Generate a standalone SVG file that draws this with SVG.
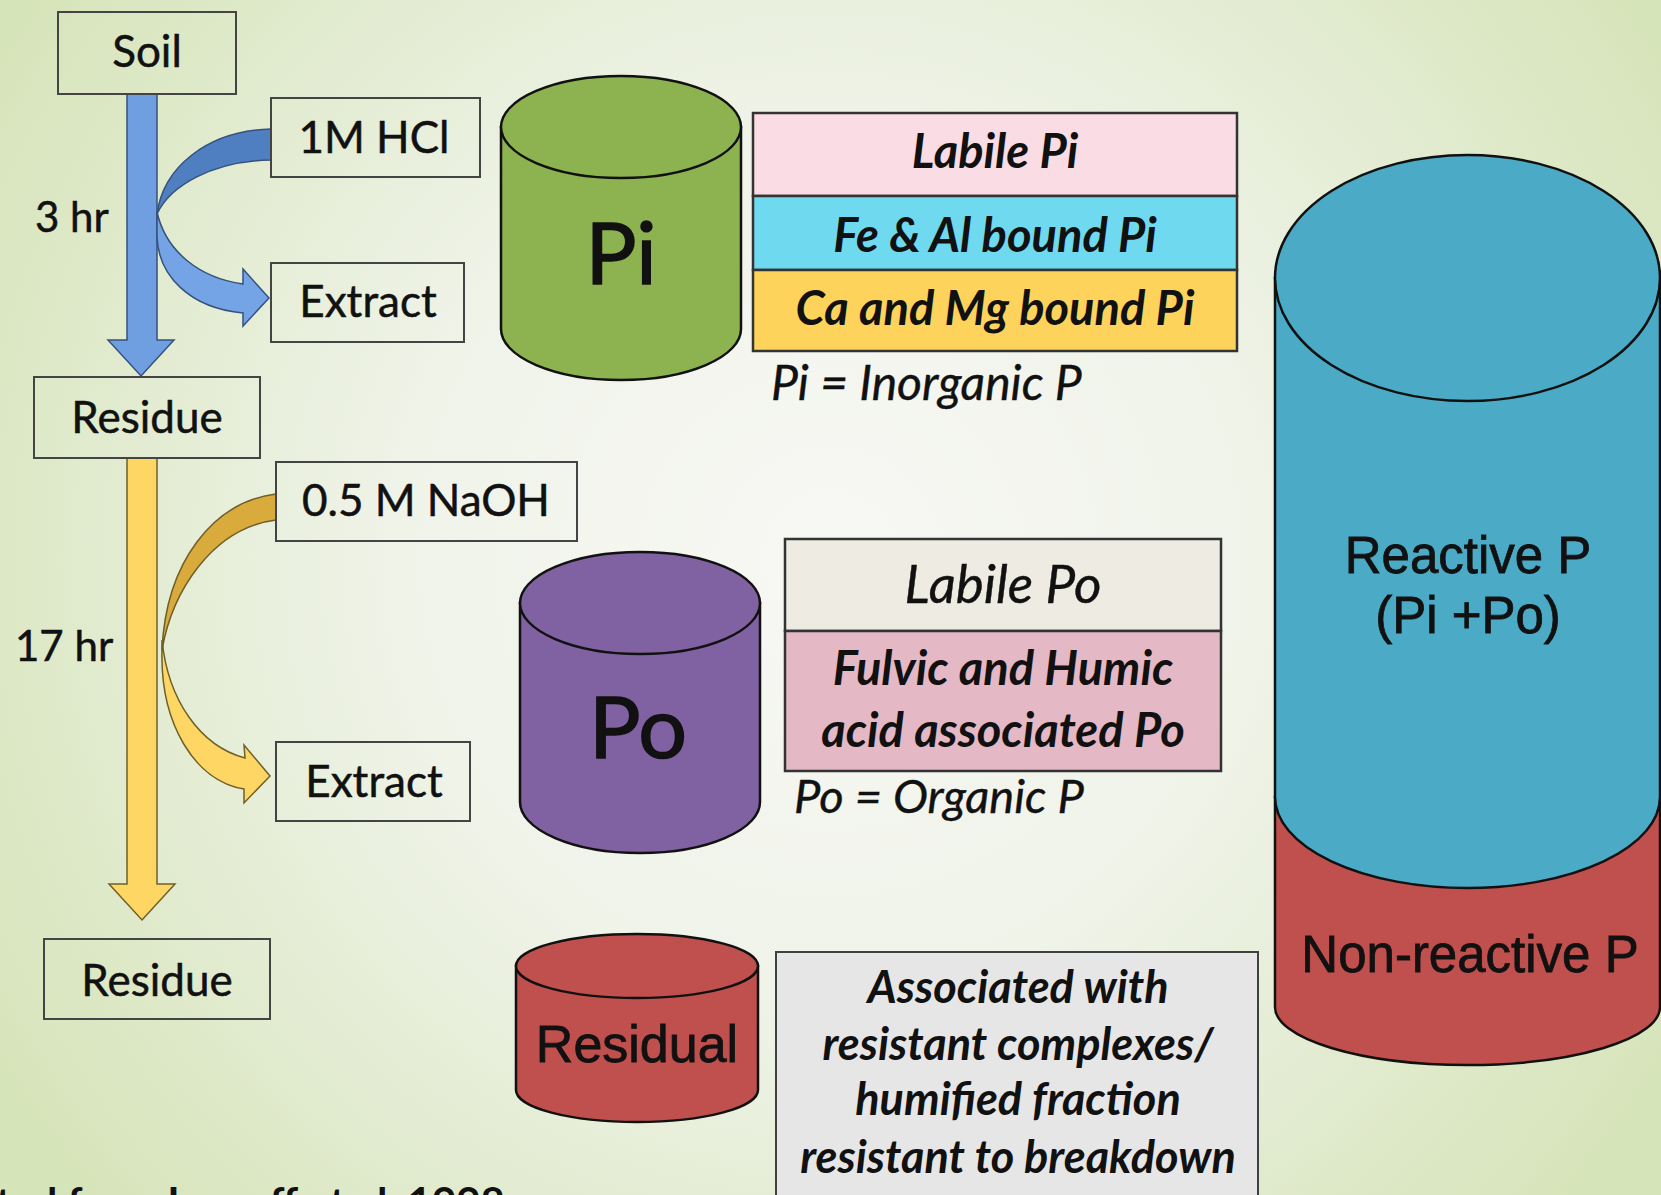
<svg xmlns="http://www.w3.org/2000/svg" width="1661" height="1195" viewBox="0 0 1661 1195">
<defs>
<radialGradient id="bg" cx="830" cy="560" r="980" gradientUnits="userSpaceOnUse">
<stop offset="0" stop-color="#f8f8f5"/>
<stop offset="0.45" stop-color="#eff3e8"/>
<stop offset="1" stop-color="#d6e4b9"/>
</radialGradient>
<style>
.box{fill:none;stroke:#444;stroke-width:2}
.lbl{font-family:Lato,"Open Sans","Liberation Sans",sans-serif;font-size:44px;fill:#111;stroke:#111;stroke-width:0.5;text-anchor:middle}
.hr{font-family:Lato,"Open Sans","Liberation Sans",sans-serif;font-size:42px;fill:#111;stroke:#111;stroke-width:0.5}
.lay{stroke:#333;stroke-width:2.5}
.bi{font-family:Lato,"Open Sans","Liberation Sans",sans-serif;font-weight:bold;font-style:italic;fill:#111;text-anchor:middle}
.it{font-family:Lato,"Open Sans","Liberation Sans",sans-serif;font-style:italic;fill:#111;stroke:#111;stroke-width:0.4}
.cyl{stroke:#111;stroke-width:2.5}
.big{font-family:Lato,"Open Sans","Liberation Sans",sans-serif;fill:#111;stroke:#111;stroke-width:1.5;text-anchor:middle}
.ar{font-family:"Liberation Sans",Arial,sans-serif;fill:#111;stroke:#111;stroke-width:0.8;text-anchor:middle}
.cite{font-family:Lato,"Open Sans","Liberation Sans",sans-serif;font-weight:bold;font-size:42px;fill:#111;text-anchor:end}
</style>
</defs>
<rect x="0" y="0" width="1661" height="1195" fill="url(#bg)"/>

<g id="connectors">
<path id="arrow-soil-residue" d="M127,94 L157,94 L157,340 L174,340 L141,376 L108,340 L127,340 Z" fill="#6f9fe0" stroke="#34527d" stroke-width="1.5"/>
<path id="curve-hcl-dark" d="M271,129 C206,131 163,168 157,214 C170,186 212,161 271,160 Z" fill="#4f7fc0" stroke="#34527d" stroke-width="1.5"/>
<path id="curve-hcl-light" d="M157,212 C166,252 200,278 243,284 L243,269 L269,298 L243,326 L243,313 C190,308 158,276 157,236 Z" fill="#74a4e6" stroke="#34527d" stroke-width="1.5"/>
<text class="hr" x="35" y="232">3 hr</text>

<path id="arrow-residue-residue" d="M127,458 L157,458 L157,884 L175,884 L142,920 L109,884 L127,884 Z" fill="#fdd663" stroke="#6f5f28" stroke-width="1.5"/>
<path id="curve-naoh-dark" d="M276,494 C213,502 166,562 162,650 C172,592 212,528 276,520 Z" fill="#d9aa3c" stroke="#6f5f28" stroke-width="1.5"/>
<path id="curve-naoh-light" d="M162,640 C168,700 200,746 245,758 L244,745 L270,776 L244,803 L244,789 C195,781 160,724 162,650 Z" fill="#fdd663" stroke="#6f5f28" stroke-width="1.5"/>
<text class="hr" x="15" y="661">17 hr</text>
</g>

<g id="soil"><rect class="box" x="58" y="12" width="178" height="82"/><text class="lbl" x="147" y="67" font-size="45">Soil</text></g>
<g id="hcl"><rect class="box" x="271" y="98" width="209" height="79"/><text class="lbl" x="374" y="153">1M HCl</text></g>
<g id="extract1"><rect class="box" x="271" y="263" width="193" height="79"/><text class="lbl" x="368" y="317">Extract</text></g>
<g id="residue1"><rect class="box" x="34" y="377" width="226" height="81"/><text class="lbl" x="147" y="433">Residue</text></g>
<g id="naoh"><rect class="box" x="276" y="462" width="301" height="79"/><text class="lbl" x="426" y="516">0.5 M NaOH</text></g>
<g id="extract2"><rect class="box" x="276" y="742" width="194" height="79"/><text class="lbl" x="374" y="797">Extract</text></g>
<g id="residue2"><rect class="box" x="44" y="939" width="226" height="80"/><text class="lbl" x="157" y="996">Residue</text></g>

<g id="pi-pool">
<path class="cyl" d="M501,127 L501,329 A120,51 0 0 0 741,329 L741,127 Z" fill="#8db250"/>
<ellipse class="cyl" cx="621" cy="127" rx="120" ry="51" fill="#8db250"/>
<text class="big" x="621" y="284" font-size="85">Pi</text>
</g>
<g id="pi-fractions">
<rect class="lay" x="753" y="113" width="484" height="83" fill="#fadce4"/>
<rect class="lay" x="753" y="196" width="484" height="74" fill="#6fd9f0"/>
<rect class="lay" x="753" y="270" width="484" height="81" fill="#fdd35c"/>
<text class="bi" x="995" y="168" font-size="47">Labile Pi</text>
<text class="bi" x="995" y="252" font-size="47">Fe &amp; Al bound Pi</text>
<text class="bi" x="995" y="325" font-size="47">Ca and Mg bound Pi</text>
<text class="it" x="771" y="400" font-size="48">Pi = Inorganic P</text>
</g>

<g id="po-pool">
<path class="cyl" d="M520,603 L520,802 A120,51 0 0 0 760,802 L760,603 Z" fill="#8062a2"/>
<ellipse class="cyl" cx="640" cy="603" rx="120" ry="51" fill="#8062a2"/>
<text class="big" x="638" y="758" font-size="86">Po</text>
</g>
<g id="po-fractions">
<rect class="lay" x="785" y="539" width="436" height="92" fill="#eeece2"/>
<rect class="lay" x="785" y="631" width="436" height="140" fill="#e5b8c6"/>
<text class="it" x="1003" y="603" font-size="53" stroke-width="0.9" text-anchor="middle">Labile Po</text>
<text class="bi" x="1003" y="685" font-size="47">Fulvic and Humic</text>
<text class="bi" x="1003" y="747" font-size="47">acid associated Po</text>
<text class="it" x="794" y="813" font-size="47">Po = Organic P</text>
</g>

<g id="residual-pool">
<path class="cyl" d="M516,966 L516,1090 A121,32 0 0 0 758,1090 L758,966 Z" fill="#c0504d"/>
<ellipse class="cyl" cx="637" cy="966" rx="121" ry="32" fill="#c0504d"/>
<text class="ar" x="637" y="1062" font-size="52">Residual</text>
</g>
<g id="residual-desc">
<rect x="776" y="952" width="482" height="260" fill="#e6e6e6" stroke="#404040" stroke-width="2"/>
<text class="bi" x="1018" y="1003" font-size="45">Associated with</text>
<text class="bi" x="1018" y="1060" font-size="45">resistant complexes/</text>
<text class="bi" x="1018" y="1115" font-size="45">humified fraction</text>
<text class="bi" x="1018" y="1173" font-size="45">resistant to breakdown</text>
</g>

<g id="total-p">
<path class="cyl" d="M1275,797 L1275,1007 A192.5,58 0 0 0 1660,1007 L1660,797 Z" fill="#c0504d" stroke-width="3"/>
<path class="cyl" d="M1275,278 L1275,797 A192.5,91 0 0 0 1660,797 L1660,278 Z" fill="#4babc6"/>
<ellipse class="cyl" cx="1467.5" cy="278" rx="192.5" ry="123" fill="#4babc6"/>
<text class="ar" x="1468" y="573" font-size="51">Reactive P</text>
<text class="ar" x="1468" y="633" font-size="51">(Pi +Po)</text>
<text class="ar" x="1470" y="972" font-size="51">Non-reactive P</text>
</g>

<text class="cite" x="505" y="1218">Adapted from Ivanoff et al. 1998</text>
</svg>
